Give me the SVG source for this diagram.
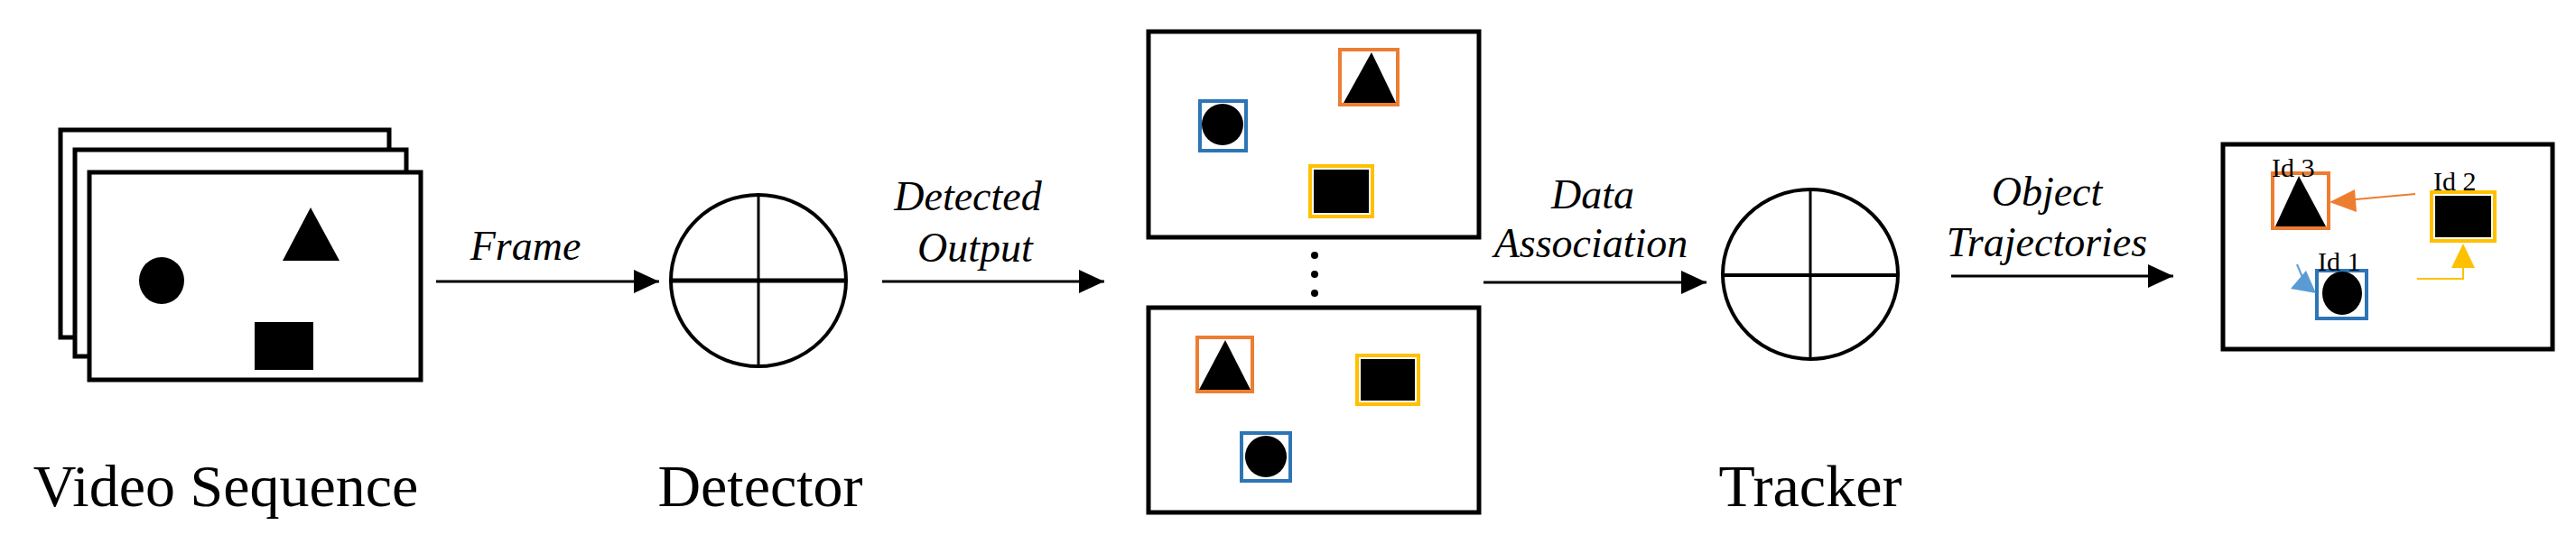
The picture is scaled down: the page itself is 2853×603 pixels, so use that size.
<svg xmlns="http://www.w3.org/2000/svg" width="2853" height="603" viewBox="0 0 2853 603">
<defs>
<style>
.fr{fill:#fff;stroke:#000;stroke-width:5}
.blk{fill:#000}
.ln{stroke:#000;stroke-width:3;fill:none}
.lbl{font-family:"Liberation Serif","Times New Roman",serif;font-size:66px;fill:#000;text-anchor:middle}
.it{font-family:"Liberation Serif","Times New Roman",serif;font-style:italic;font-size:46px;fill:#000;text-anchor:middle}
.id{font-family:"Liberation Serif","Times New Roman",serif;font-size:30px;fill:#000}
.ob{fill:none;stroke:#ED7D31;stroke-width:4}
.yb{fill:none;stroke:#FFC000;stroke-width:4}
.bb{fill:none;stroke:#2E75B6;stroke-width:4}
</style>
<marker id="ah" markerWidth="28" markerHeight="26" refX="28" refY="13" orient="auto" markerUnits="userSpaceOnUse" viewBox="0 0 28 26">
<path d="M0,0 L28,13 L0,26 Z" fill="#000"/>
</marker>
</defs>
<rect width="2853" height="603" fill="#fff"/>

<g id="video-sequence">
<rect class="fr" x="67" y="144" width="364" height="230"/>
<rect class="fr" x="83" y="166" width="367" height="229"/>
<rect class="fr" x="99" y="191" width="367" height="230"/>
<polygon class="blk" points="344,230 376,289 313,289"/>
<ellipse class="blk" cx="179" cy="311" rx="25" ry="26"/>
<rect class="blk" x="282" y="357" width="65" height="53"/>
<text class="lbl" x="250" y="561">Video Sequence</text>
</g>

<g id="detector">
<ellipse cx="840" cy="311" rx="97" ry="95" fill="#fff" stroke="#000" stroke-width="4"/>
<line x1="743" y1="311" x2="937" y2="311" stroke="#000" stroke-width="5"/>
<line x1="840" y1="216" x2="840" y2="406" stroke="#000" stroke-width="3"/>
<text class="lbl" x="842" y="561">Detector</text>
</g>

<g id="detected-output">
<rect class="fr" x="1272" y="35" width="366" height="228"/>
<rect class="bb" x="1329" y="112" width="51" height="55"/>
<circle class="blk" cx="1354" cy="138" r="23"/>
<rect class="ob" x="1484" y="55" width="64" height="61"/>
<polygon class="blk" points="1519,58 1546,114 1488,114"/>
<rect class="yb" x="1451" y="184" width="69" height="56"/>
<rect class="blk" x="1455" y="188" width="61" height="48"/>
<circle class="blk" cx="1456" cy="283" r="4"/>
<circle class="blk" cx="1456" cy="304" r="4"/>
<circle class="blk" cx="1456" cy="325" r="4"/>
<rect class="fr" x="1272" y="341" width="366" height="227"/>
<rect class="ob" x="1326" y="374" width="61" height="60"/>
<polygon class="blk" points="1357,377 1385,432 1328,432"/>
<rect class="yb" x="1503" y="394" width="68" height="54"/>
<rect class="blk" x="1507" y="398" width="60" height="46"/>
<rect class="bb" x="1375" y="480" width="54" height="53"/>
<circle class="blk" cx="1402" cy="506" r="23"/>
</g>

<g id="tracker">
<ellipse cx="2005" cy="304" rx="97" ry="94" fill="#fff" stroke="#000" stroke-width="4"/>
<line x1="1908" y1="305" x2="2102" y2="305" stroke="#000" stroke-width="4"/>
<line x1="2005" y1="210" x2="2005" y2="398" stroke="#000" stroke-width="3"/>
<text class="lbl" x="2005" y="561">Tracker</text>
</g>

<g id="object-trajectories">
<rect class="fr" x="2462" y="160" width="365" height="227"/>
<rect class="ob" x="2517" y="192" width="62" height="61"/>
<polygon class="blk" points="2546,195 2576,251 2520,251"/>
<text class="id" x="2516" y="196">Id 3</text>
<rect class="yb" x="2693" y="213" width="70" height="54"/>
<rect class="blk" x="2697" y="217" width="62" height="46"/>
<text class="id" x="2695" y="211">Id 2</text>
<rect class="bb" x="2566" y="300" width="55" height="53"/>
<ellipse class="blk" cx="2594" cy="325" rx="22" ry="24"/>
<text class="id" x="2567" y="300">Id 1</text>
<line x1="2675" y1="215" x2="2598" y2="222" stroke="#ED7D31" stroke-width="2"/>
<polygon points="2580,224 2608,210 2610,235" fill="#ED7D31"/>
<polyline points="2677,309 2728,309 2728,292" fill="none" stroke="#FFC000" stroke-width="2"/>
<polygon points="2728,270 2741,297 2715,297" fill="#FFC000"/>
<line x1="2544" y1="293" x2="2552" y2="312" stroke="#5B9BD5" stroke-width="2"/>
<polygon points="2565,325 2537,320 2554,300" fill="#5B9BD5"/>
</g>

<g id="connectors">
<line class="ln" x1="483" y1="312" x2="730" y2="312" marker-end="url(#ah)"/>
<line class="ln" x1="977" y1="312" x2="1223" y2="312" marker-end="url(#ah)"/>
<line class="ln" x1="1643" y1="313" x2="1890" y2="313" marker-end="url(#ah)"/>
<line class="ln" x1="2161" y1="306" x2="2407" y2="306" marker-end="url(#ah)"/>
<text class="it" x="582" y="288">Frame</text>
<text class="it" x="1072" y="233">Detected</text>
<text class="it" x="1080" y="290">Output</text>
<text class="it" x="1764" y="231">Data</text>
<text class="it" x="1762" y="285">Association</text>
<text class="it" x="2267" y="228">Object</text>
<text class="it" x="2267" y="284">Trajectories</text>
</g>
</svg>
